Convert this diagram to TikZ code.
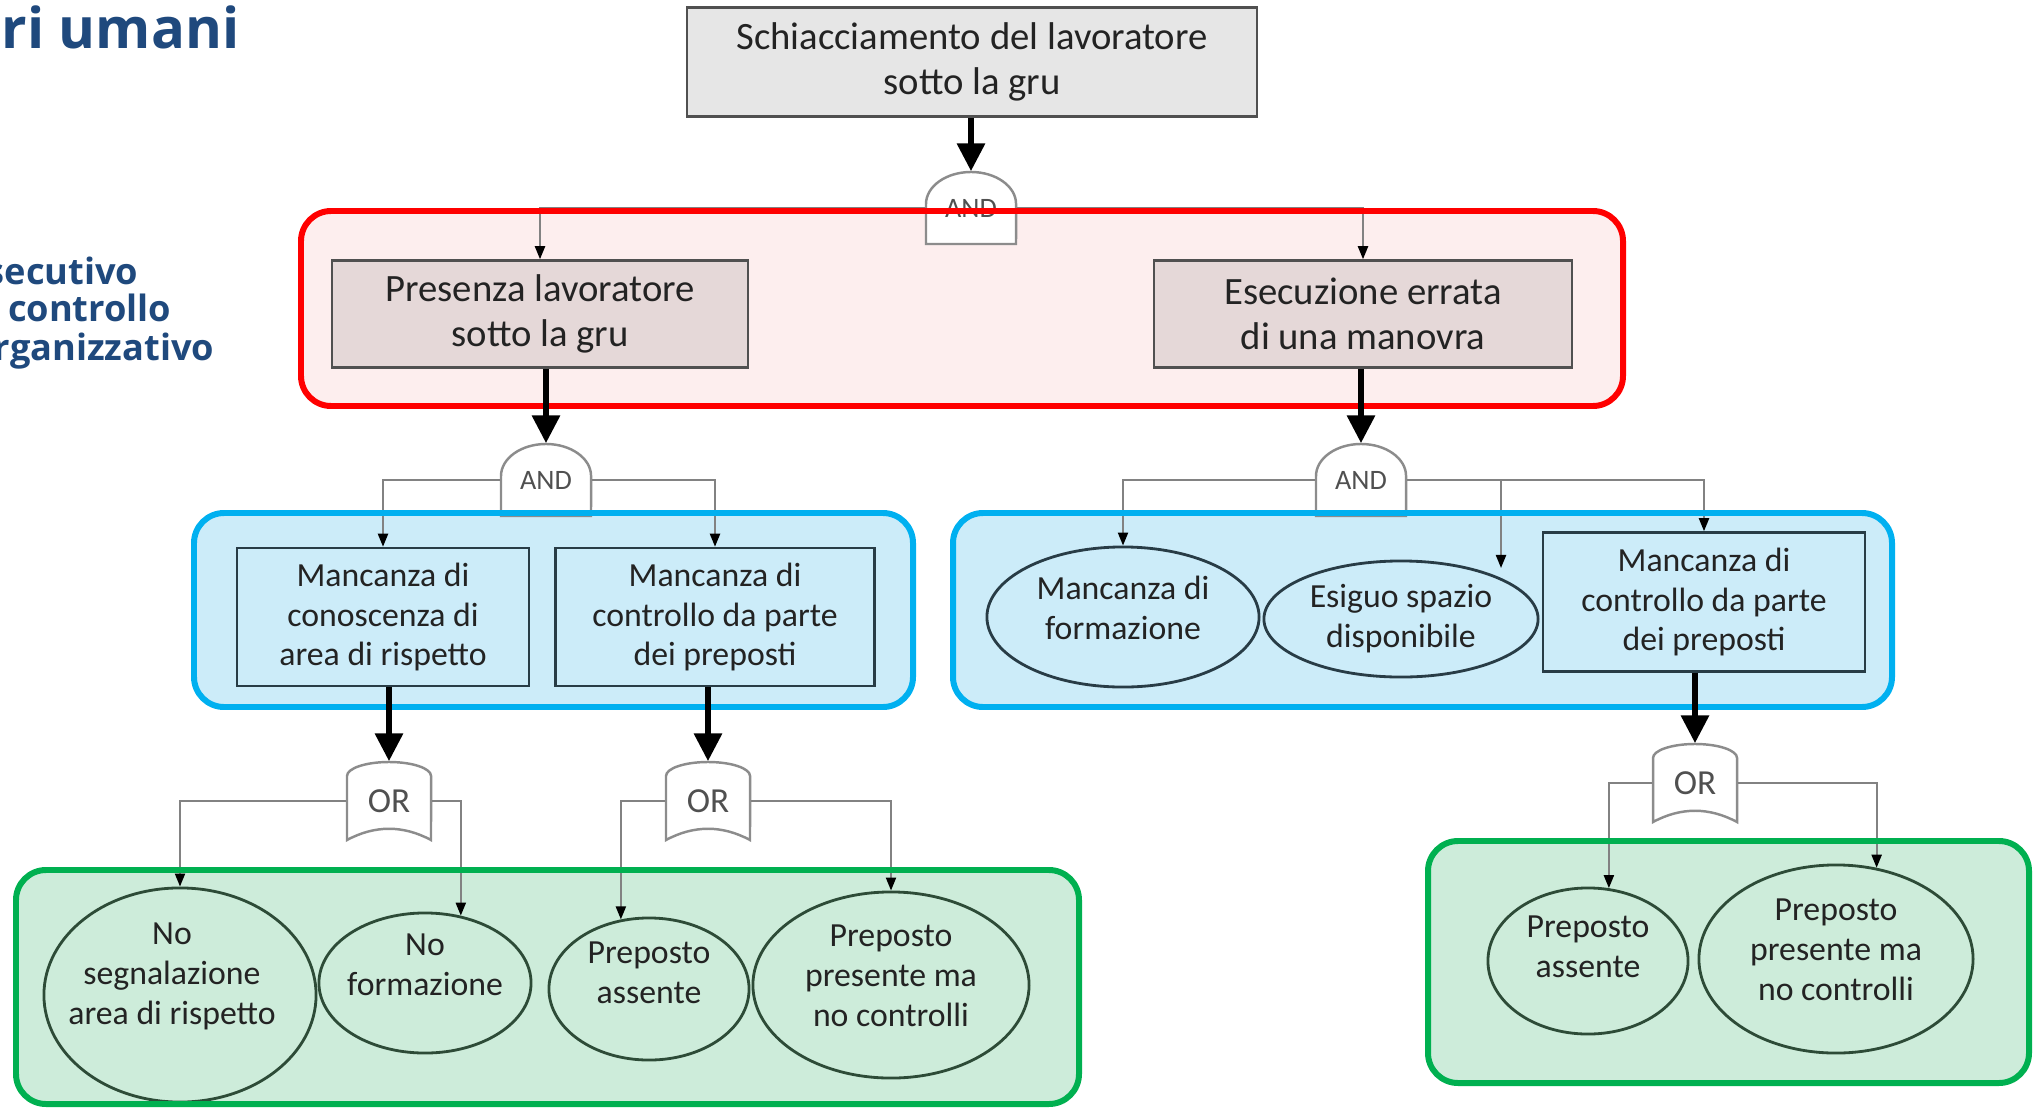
\documentclass[tikz,border=0pt]{standalone}
\usepackage{fontspec}
\setmainfont{Carlito}
\newfontfamily\titlefont{Open Sans}
\usetikzlibrary{arrows.meta}
\usetikzlibrary{shapes.geometric}

\definecolor{titleblue}{RGB}{31,73,125}
\definecolor{grpred}{RGB}{255,0,0}
\definecolor{grpredfill}{RGB}{253,238,238}
\definecolor{grpblue}{RGB}{0,176,240}
\definecolor{grpbluefill}{RGB}{204,236,249}
\definecolor{grpgreen}{RGB}{0,176,80}
\definecolor{grpgreenfill}{RGB}{205,236,218}
\definecolor{boxgray}{RGB}{230,230,230}
\definecolor{boxpink}{RGB}{229,216,216}
\definecolor{boxedge}{RGB}{80,80,80}
\definecolor{bluedge}{RGB}{40,60,70}
\definecolor{greenedge}{RGB}{45,75,55}
\definecolor{connector}{RGB}{130,130,130}
\definecolor{gatedge}{RGB}{140,140,140}
\definecolor{gatetxt}{RGB}{80,80,80}
\definecolor{txt}{RGB}{35,35,35}

\tikzset{
  titletext/.style={text=titleblue, inner sep=0pt, font=\titlefont\bfseries\fontsize{16}{19}\selectfont},
  sidetext/.style={text=titleblue, inner sep=0pt, font=\titlefont\bfseries\fontsize{10.3}{12}\selectfont},
  topbox/.style={draw=boxedge, line width=0.7pt, text=txt, align=center, inner sep=0pt,
    font=\fontsize{11}{12.8}\selectfont},
  lowbox/.style={draw=bluedge, fill=grpbluefill, line width=0.7pt, text=txt, align=center, inner sep=0pt,
    font=\fontsize{9.6}{11.2}\selectfont},
  causa/.style={ellipse, draw=#1, line width=0.8pt, inner sep=0pt},
  causatext/.style={text=txt, align=center, inner sep=0pt, font=\fontsize{9.6}{11.4}\selectfont},
  gatenode/.style={minimum width=0.9cm, minimum height=0.72cm, inner sep=0pt, text=gatetxt},
  gateline/.style={draw=gatedge, fill=white, line width=0.7pt},
  link/.style={draw=connector, line width=0.6pt, -{Triangle[length=0.13cm,width=0.1cm,color=black]}},
  bigarrow/.style={draw=black, line width=1.8pt, -{Triangle[length=0.28cm,width=0.27cm]}},
  group/.style={rounded corners=0.3cm, line width=1.7pt},
  andgate/.pic={\filldraw[gateline] (-45,36) -- (-45,-4) arc[start angle=180, end angle=0, x radius=0.45cm, y radius=0.32cm] -- (45,36) -- cycle;},
  orgate/.pic={\filldraw[gateline] (-42,39) -- (-42,-25) arc[start angle=180, end angle=0, x radius=0.42cm, y radius=0.14cm] -- (42,39) .. controls (14,24) and (-14,24) .. cycle;}
}

\begin{document}
\begin{tikzpicture}[x=0.01cm, y=-0.01cm]
  \useasboundingbox (0,0) rectangle (2033,1109);

  % group backgrounds
  \fill[grpredfill, rounded corners=0.3cm] (301,211) rectangle (1623,406);
  \fill[grpbluefill, rounded corners=0.3cm] (194,513) rectangle (913,707);
  \fill[grpbluefill, rounded corners=0.3cm] (953,513) rectangle (1892,707);
  \fill[grpgreenfill, rounded corners=0.3cm] (16,870) rectangle (1079,1104);
  \fill[grpgreenfill, rounded corners=0.3cm] (1428,841) rectangle (2029,1083);

  % slide texts
  \node[titletext, anchor=base east] (title) at (240,48) {ri umani};
  \node[sidetext, anchor=base east] (esecutivo) at (139,284) {secutivo};
  \node[sidetext, anchor=base east] (controllo) at (172,321) {controllo};
  \node[sidetext, anchor=base east] (organizzativo) at (215,360) {rganizzativo};

  % events
  \node[topbox, fill=boxgray, minimum width=5.7cm, minimum height=1.09cm] (crush) at (972,62) {Schiacciamento del lavoratore\\sotto la gru};
  \node[topbox, fill=boxpink, minimum width=4.16cm, minimum height=1.07cm] (presenza) at (540,314) {Presenza lavoratore\\sotto la gru};
  \node[topbox, fill=boxpink, minimum width=4.18cm, minimum height=1.07cm] (errata) at (1363,314) {Esecuzione errata\\di una manovra};

  \node[lowbox, minimum width=2.92cm, minimum height=1.38cm] (conoscenza) at (383,617) {Mancanza di\\conoscenza di\\area di rispetto};
  \node[lowbox, minimum width=3.19cm, minimum height=1.38cm] (controlloA) at (715,617) {Mancanza di\\controllo da parte\\dei preposti};
  \node[causa=bluedge, minimum width=2.72cm, minimum height=1.4cm,
    label={[causatext, yshift=0.09cm]center:{Mancanza di\\formazione}}] (formazione) at (1123,617) {};
  \node[causa=bluedge, minimum width=2.74cm, minimum height=1.16cm,
    label={[causatext]center:{Esiguo spazio\\disponibile}}] (spazio) at (1401,619) {};
  \node[lowbox, minimum width=3.22cm, minimum height=1.39cm] (controlloB) at (1704,602) {Mancanza di\\controllo da parte\\dei preposti};

  \node[causa=greenedge, minimum width=2.72cm, minimum height=2.14cm,
    label={[causatext, xshift=-0.08cm, yshift=0.19cm]center:{No\\segnalazione\\area di rispetto}}] (segnalazione) at (180,995) {};
  \node[causa=greenedge, minimum width=2.12cm, minimum height=1.4cm,
    label={[causatext, yshift=0.18cm]center:{No\\formazione}}] (noformazione) at (425,983) {};
  \node[causa=greenedge, minimum width=2cm, minimum height=1.42cm,
    label={[causatext, yshift=0.16cm]center:{Preposto\\assente}}] (assenteA) at (649,989) {};
  \node[causa=greenedge, minimum width=2.76cm, minimum height=1.86cm,
    label={[causatext, yshift=0.09cm]center:{Preposto\\presente ma\\no controlli}}] (presenteA) at (891,985) {};
  \node[causa=greenedge, minimum width=2cm, minimum height=1.46cm,
    label={[causatext, yshift=0.14cm]center:{Preposto\\assente}}] (assenteB) at (1588,961) {};
  \node[causa=greenedge, minimum width=2.74cm, minimum height=1.88cm,
    label={[causatext, yshift=0.09cm]center:{Preposto\\presente ma\\no controlli}}] (presenteB) at (1836,959) {};

  % gates
  \pic at (971,208) {andgate};
  \node[gatenode, font=\fontsize{8}{8}\selectfont] (and1) at (971,208) {AND};
  \pic at (546,480) {andgate};
  \node[gatenode, font=\fontsize{8}{8}\selectfont] (and2) at (546,480) {AND};
  \pic at (1361,480) {andgate};
  \node[gatenode, font=\fontsize{8}{8}\selectfont] (and3) at (1361,480) {AND};
  \pic at (389,801) {orgate};
  \node[gatenode, minimum width=0.84cm, minimum height=0.78cm, font=\fontsize{10}{10}\selectfont] (or1) at (389,801) {OR};
  \pic at (708,801) {orgate};
  \node[gatenode, minimum width=0.84cm, minimum height=0.78cm, font=\fontsize{10}{10}\selectfont] (or2) at (708,801) {OR};
  \pic at (1695,783) {orgate};
  \node[gatenode, minimum width=0.84cm, minimum height=0.78cm, font=\fontsize{10}{10}\selectfont] (or3) at (1695,783) {OR};

  % connectors
  \draw[link] (and1.west) -| (presenza.north);
  \draw[link] (and1.east) -| (errata.north);
  \draw[link] (and2.west) -| (conoscenza.north);
  \draw[link] (and2.east) -| (controlloA.north);
  \draw[link] (and3.west) -| (formazione.north);
  \draw[link] (and3.east) -| (controlloB.north);
  \coordinate (spaziotip) at (1501,568);
  \draw[link] (and3.east -| spaziotip) -- (spaziotip);
  \draw[link] (or1.west) -| (segnalazione.north);
  \draw[link] (or1.east) -| (noformazione.62);
  \draw[link] (or2.west) -| (assenteA.112);
  \draw[link] (or2.east) -| (presenteA.north);
  \draw[link] (or3.west) -| (assenteB.74);
  \draw[link] (or3.east) -| (presenteB.66);

  % group borders
  \draw[grpred, group] (301,211) rectangle (1623,406);
  \draw[grpblue, group] (194,513) rectangle (913,707);
  \draw[grpblue, group] (953,513) rectangle (1892,707);
  \draw[grpgreen, group] (16,870) rectangle (1079,1104);
  \draw[grpgreen, group] (1428,841) rectangle (2029,1083);

  % thick arrows
  \draw[bigarrow] (crush.south -| and1.north) -- (and1.north);
  \draw[bigarrow] (presenza.south -| and2.north) -- (and2.north);
  \draw[bigarrow] (errata.south -| and3.north) -- (and3.north);
  \draw[bigarrow] (conoscenza.south -| or1.north) -- (or1.north);
  \draw[bigarrow] (controlloA.south -| or2.north) -- (or2.north);
  \draw[bigarrow] (controlloB.south -| or3.north) -- (or3.north);
\end{tikzpicture}
\end{document}
